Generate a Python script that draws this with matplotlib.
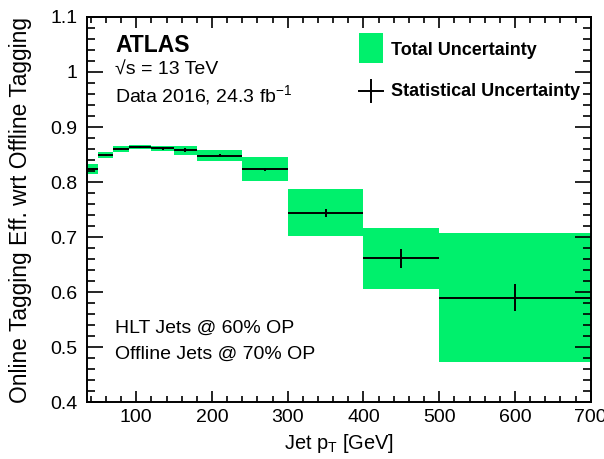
import matplotlib
matplotlib.use("Agg")
import matplotlib.pyplot as plt
import numpy as np
from matplotlib.ticker import MultipleLocator
from matplotlib.patches import Rectangle

# Data
bin_edges = [35, 50, 70, 90, 120, 150, 180, 240, 300, 400, 500, 700]
efficiency = [0.824, 0.849, 0.860, 0.864, 0.861, 0.858, 0.848, 0.823, 0.744, 0.661, 0.590]
total_unc = [0.009, 0.006, 0.005, 0.004, 0.004, 0.008, 0.0095, 0.022, 0.043, 0.055, 0.118]
stat_unc = [0.002, 0.002, 0.002, 0.002, 0.002, 0.003, 0.003, 0.003, 0.007, 0.0175, 0.024]

font = ["Liberation Sans", "DejaVu Sans"]
green = "#00f06c"

plt.rcParams["font.family"] = font
plt.rcParams["mathtext.fontset"] = "custom"
plt.rcParams["mathtext.rm"] = "Liberation Sans"
plt.rcParams["mathtext.it"] = "Liberation Sans:italic"
plt.rcParams["mathtext.bf"] = "Liberation Sans:bold"

edges = np.array(bin_edges, dtype=float)
eff = np.array(efficiency)
tot = np.array(total_unc)
stat = np.array(stat_unc)
widths = np.diff(edges)
centers = edges[:-1] + widths / 2

fig = plt.figure(figsize=(6.04, 4.59), dpi=100)
ax = fig.add_axes([0.144, 0.124, 0.834, 0.839])

# total uncertainty boxes
ax.bar(edges[:-1], 2 * tot, width=widths, bottom=eff - tot, align="edge",
       color=green, edgecolor="none", linewidth=0)
# statistical uncertainty crosses
ax.errorbar(centers, eff, xerr=widths / 2, yerr=stat, fmt="none",
            ecolor="black", elinewidth=1.4, capsize=0)

ax.set_xlim(35, 700)
ax.set_ylim(0.4, 1.1)
ax.xaxis.set_major_locator(MultipleLocator(100))
ax.xaxis.set_minor_locator(MultipleLocator(20))
ax.yaxis.set_minor_locator(MultipleLocator(0.02))
ax.set_yticks(np.arange(0.4, 1.101, 0.1))
ax.set_yticklabels(["0.4", "0.5", "0.6", "0.7", "0.8", "0.9", "1", "1.1"])

ax.tick_params(axis="both", which="both", direction="in", top=True, right=True,
               labelsize=14, width=1.2)
ax.tick_params(axis="x", which="major", length=8, pad=5)
ax.tick_params(axis="x", which="minor", length=4.3)
ax.tick_params(axis="y", which="major", length=11.5, pad=7)
ax.tick_params(axis="y", which="minor", length=6)
for s in ax.spines.values():
    s.set_linewidth(1.4)

ax.set_xlabel(r"Jet p$_{\mathrm{T}}$ [GeV]", fontsize=14.4, labelpad=4)
ax.set_ylabel("Online Tagging Eff. wrt Offline Tagging", fontsize=16.4, labelpad=13)

# labels
ax.text(0.0556, 0.910, "ATLAS", transform=ax.transAxes, fontsize=16.5,
        fontweight="bold", va="baseline")
ax.text(0.0556, 0.849, "√s = 13 TeV", transform=ax.transAxes, fontsize=14,
        va="baseline")
ax.text(0.0556, 0.780, r"Data 2016, 24.3 fb$^{\mathrm{-1}}$", transform=ax.transAxes,
        fontsize=14, va="baseline")
ax.text(0.0556, 0.181, "HLT Jets @ 60% OP", transform=ax.transAxes, fontsize=14,
        va="baseline")
ax.text(0.0556, 0.1135, "Offline Jets @ 70% OP", transform=ax.transAxes,
        fontsize=14, va="baseline")

# legend drawn by hand
ax.add_patch(Rectangle((0.540, 0.881), 0.047, 0.077, transform=ax.transAxes,
                       facecolor=green, edgecolor="none"))
ax.plot([0.540, 0.587], [0.809, 0.809], color="black", lw=1.4,
        transform=ax.transAxes)
ax.plot([0.5635, 0.5635], [0.780, 0.836], color="black", lw=1.4,
        transform=ax.transAxes)
ax.text(0.604, 0.901, "Total Uncertainty", transform=ax.transAxes, fontsize=13,
        fontweight="bold", va="baseline")
ax.text(0.604, 0.795, "Statistical Uncertainty", transform=ax.transAxes,
        fontsize=13, fontweight="bold", va="baseline")

fig.savefig("out.png", dpi=100)
